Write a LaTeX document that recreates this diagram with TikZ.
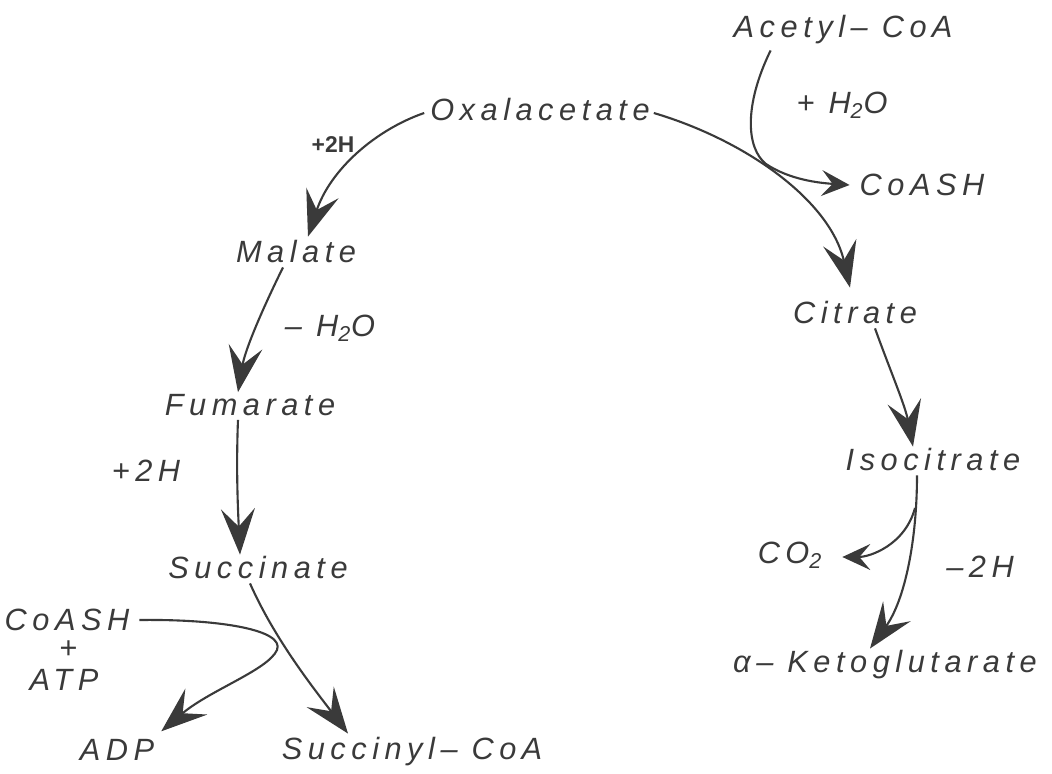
\documentclass[tikz,border=0pt]{standalone}
\usepackage{fontspec}
\setmainfont{Liberation Sans}
\newfontfamily\lett{Liberation Sans}[LetterSpace=18]
\usetikzlibrary{arrows.meta,calc}
\definecolor{ink}{HTML}{3A3A3A}
\begin{document}
\begin{tikzpicture}[x=0.02cm,y=-0.02cm,
  lbl/.style={font=\lett\itshape\fontsize{17.5}{20}\selectfont, inner sep=1pt, text=ink},
  hand/.style={font=\bfseries\fontsize{13}{15}\selectfont, inner sep=1pt, text=ink},
  flow/.style={draw=ink, line width=1.2pt, -{Stealth[length=0.92cm,width=0.68cm,inset=0.36cm]}},
  flowsm/.style={draw=ink, line width=1.2pt, -{Stealth[length=0.56cm,width=0.52cm,inset=0.22cm]}},
  plain/.style={draw=ink, line width=1.2pt}]
\useasboundingbox (0,0) rectangle (1052,774);
% nodes
\node[lbl] (acetyl) at (843,30) {Acetyl– Co\,A};
\node[lbl] (h2o)    at (842,105) {+ H\textsubscript{2}O};
\node[lbl] (coashr) at (922,185) {CoASH};
\node[lbl] (oxa)    at (540,110) {Oxalacetate};
\node[hand] (p2ha)  at (333,145) {+2H};
\node[lbl] (mal)    at (296,252) {Malate};
\node[lbl] (mh2o)   at (330,328) {– H\textsubscript{2}O};
\node[lbl] (fum)    at (250,405) {Fumarate};
\node[lbl] (p2hb)   at (146,471) {+2H};
\node[lbl] (suc)    at (258,568) {Succinate};
\node[lbl] (coashl) at (67,620) {CoASH};
\node[lbl] (plus)   at (68,650) {+};
\node[lbl] (atp)    at (64,680) {ATP};
\node[lbl] (adp)    at (117,750) {ADP};
\node[lbl] (sucoa)  at (412,752) {Succinyl– Co\,A};
\node[lbl] (cit)    at (855,313) {Citrate};
\node[lbl] (iso)    at (933,460) {Isocitrate};
\node[lbl] (co2)    at (790,555) {CO\textsubscript{2}};
\node[lbl] (m2h)    at (980,567) {–2H};
\node[lbl] (akg)    at (885,665) {α– Ketoglutarate};
% connectors
\draw[flow] ($(oxa.west)+(-4,3)$) .. controls (375,130) and (330,170) .. ($(mal.north)+(12,-2)$);
\draw[flow] ($(oxa.east)+(2,3)$) .. controls (745,140) and (830,200) .. ($(cit.north)+(-5,-12)$);
\draw[flowsm] ($(acetyl.south west)+(39,4)$) .. controls (744,105) and (746,148) .. (766,164)
   .. controls (790,180) and (820,183) .. ($(coashr.west)+(-8,0)$);
\draw[flow] ($(mal.south)+(-13,2)$) .. controls (262,310) and (245,350) .. ($(fum.north)+(-12,0)$);
\draw[flow] ($(fum.south)+(-12,2)$) .. controls (236,470) and (238,510) .. ($(suc.north)+(-18,0)$);
\draw[flow] ($(suc.south)+(-8,2)$) .. controls (275,640) and (315,690) .. ($(sucoa.north)+(-64,-2)$);
\draw[flow] ($(coashl.east)+(8,0)$) .. controls (220,619) and (285,630) .. (277,650)
   .. controls (268,670) and (210,690) .. ($(adp.north east)+(5,-6)$);
\draw[flow] ($(cit.south)+(20,2)$) .. controls (890,370) and (905,405) .. ($(iso.north)+(-20,0)$);
\draw[flow] ($(iso.south)+(-16,2)$) .. controls (917,540) and (905,600) .. ($(akg.north)+(-15,0)$);
\draw[flowsm] (915,508) .. controls (905,545) and (870,557) .. ($(co2.east)+(18,2)$);
\end{tikzpicture}
\end{document}
